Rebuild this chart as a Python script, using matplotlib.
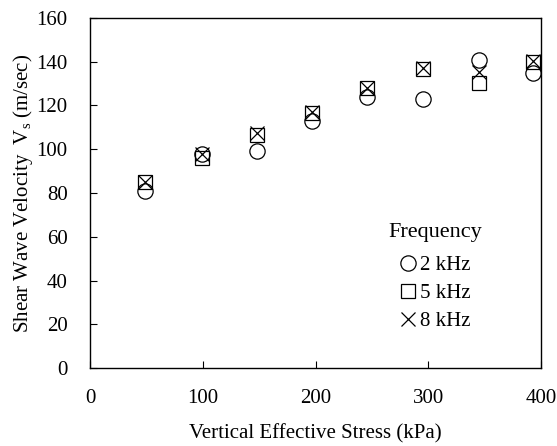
import numpy as np
import matplotlib
matplotlib.use('Agg')
import matplotlib.pyplot as plt

plt.rcParams['font.family'] = ['Liberation Serif', 'DejaVu Serif']
plt.rcParams['mathtext.fontset'] = 'custom'
plt.rcParams['mathtext.rm'] = 'Liberation Serif'
plt.rcParams['mathtext.it'] = 'Liberation Serif'

# vertical effective stress (kPa)
stress = [49, 99, 148, 197, 246, 295, 345, 393]
# shear wave velocity (m/sec) at each frequency
vs_2khz = [81, 98, 99, 113, 124, 123, 141, 135]
vs_5khz = [85, 96, 106.5, 116.5, 128, 136.5, 130.5, 140]
vs_8khz = [85, 98, 107.5, 117, 128, 137, 135.5, 140.5]

fig = plt.figure(figsize=(5.57, 4.46), dpi=100)
ax = fig.add_axes([90 / 557, 78 / 446, 451 / 557, 350 / 446])

ax.plot(stress, vs_2khz, 'o', ms=11, mfc='none', mec='black', mew=0.9, label='2 kHz')
ax.plot(stress, vs_5khz, 's', ms=10, mfc='none', mec='black', mew=0.9, label='5 kHz')
ax.plot(stress, vs_8khz, 'x', ms=10, mec='black', mew=0.9, label='8 kHz')

ax.set_xlim(0, 400)
ax.set_ylim(0, 160)
ax.set_xticks(np.arange(0, 401, 100))
ax.set_yticks(np.arange(0, 161, 20))
ax.tick_params(direction='in', labelsize=15, length=5)
ax.tick_params(axis='x', pad=15)
ax.tick_params(axis='y', pad=16)
for s in ax.spines.values():
    s.set_linewidth(1.0)

ax.set_xlabel('Vertical Effective Stress (kPa)', fontsize=15, labelpad=12)
ax.set_ylabel('Shear Wave Velocity  V$_\\mathregular{s}$ (m/sec)', fontsize=15, labelpad=1)

leg = ax.legend(title='Frequency', loc='lower left', bbox_to_anchor=(0.621, 0.052),
                frameon=False, fontsize=15, title_fontsize=16,
                handlelength=0.7, handletextpad=0.2, labelspacing=0.4)
leg._legend_box.align = 'center'
leg._legend_box.sep = 10

fig.savefig('out.png', dpi=100)
